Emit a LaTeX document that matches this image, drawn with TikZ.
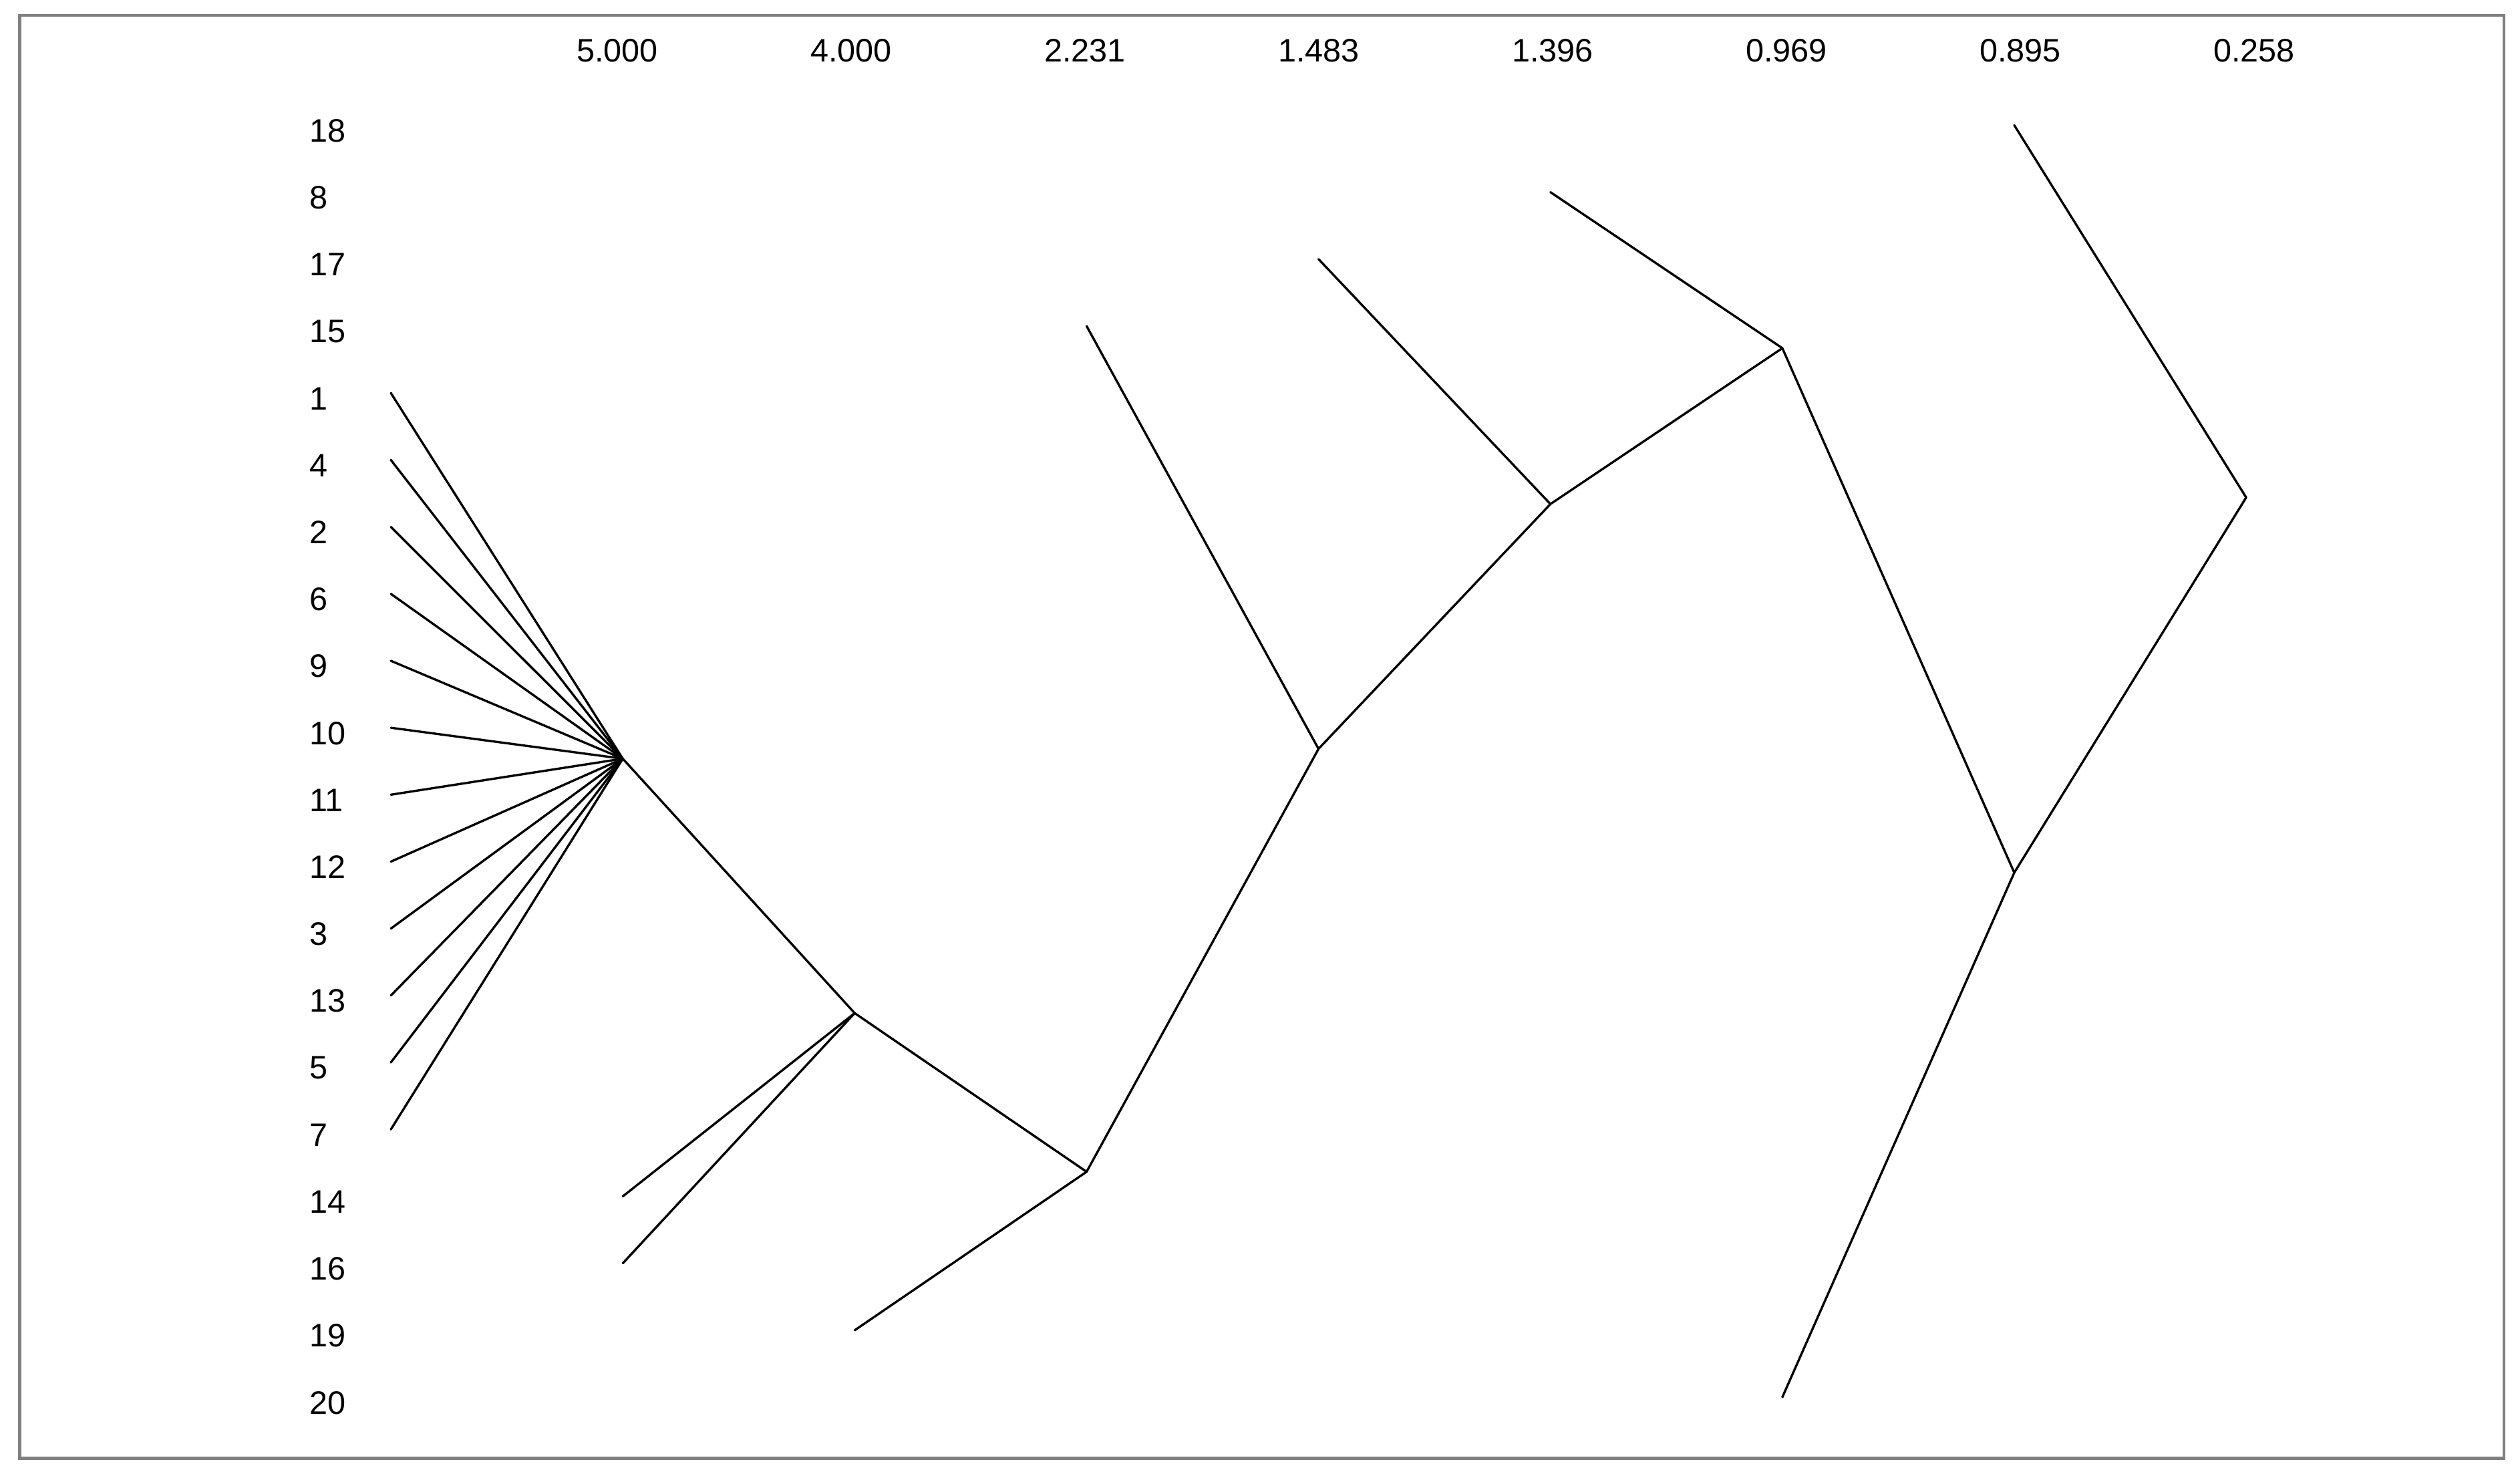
\documentclass[tikz,border=0pt]{standalone}
\usepackage{fontspec}
\setmainfont{Liberation Sans}
\begin{document}
\begin{tikzpicture}[x=1pt,y=-1pt,
  lbl/.style={inner sep=0pt, font=\fontsize{20.2}{24}\selectfont},
  rowlbl/.style={lbl, anchor=west},
  toplbl/.style={lbl, anchor=center},
  branch/.style={line width=1.4pt, black, line cap=round, line join=round},
  frame/.style={draw=black!50, line width=1.9pt}]
\useasboundingbox (0,0) rectangle (1568,918);
\fill[white] (0,0) rectangle (1568,918);
\draw[frame] (12.2,9.5) rectangle (1558,907.3);

% distance labels
\foreach \t [count=\k from 0] in {5.000,4.000,2.231,1.483,1.396,0.969,0.895,0.258}
  \node[toplbl] (top\k) at ({384.1+145.5*\k},31.5) {\t};

% row labels and leaf start points
% columns: c_k = 243.2 + 144.3 k ; line y = 77.9 + 41.65 i ; label y = 81.3 + 41.65 i
\foreach \lab/\col [count=\i from 0] in {18/7,8/5,17/4,15/3,1/0,4/0,2/0,6/0,9/0,10/0,11/0,12/0,3/0,13/0,5/0,7/0,14/1,16/1,19/2,20/6}{
  \node[rowlbl] (lab\lab) at (192.5,{81.3+41.65*\i}) {\lab};
  \coordinate (s\lab) at ({243.2+144.3*\col},{77.9+41.65*\i});
}

% internal nodes
\coordinate (A) at (387.5,472.0);
\coordinate (B) at (531.8,630.3);
\coordinate (C) at (676.1,729.0);
\coordinate (D) at (820.4,465.9);
\coordinate (E) at (964.7,313.6);
\coordinate (F) at (1109.0,216.6);
\coordinate (G) at (1253.3,542.9);
\coordinate (H) at (1397.6,309.5);

% branches
\foreach \l in {1,4,2,6,9,10,11,12,3,13,5,7}
  \draw[branch] (s\l) -- (A);
\draw[branch] (A) -- (B);
\draw[branch] (s14) -- (B);
\draw[branch] (s16) -- (B);
\draw[branch] (B) -- (C);
\draw[branch] (s19) -- (C);
\draw[branch] (s15) -- (D);
\draw[branch] (C) -- (D);
\draw[branch] (s17) -- (E);
\draw[branch] (D) -- (E);
\draw[branch] (s8) -- (F);
\draw[branch] (E) -- (F);
\draw[branch] (F) -- (G);
\draw[branch] (s20) -- (G);
\draw[branch] (s18) -- (H);
\draw[branch] (G) -- (H);
\end{tikzpicture}
\end{document}
